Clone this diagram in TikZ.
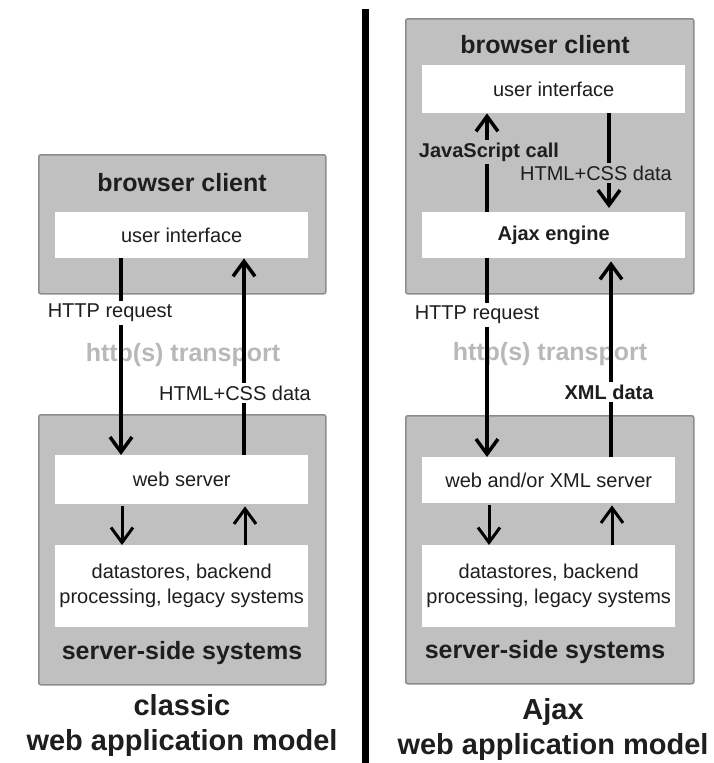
\documentclass[tikz,border=0pt]{standalone}
\usepackage{fontspec}
\setmainfont{Liberation Sans}
\usetikzlibrary{arrows.meta}

\definecolor{panel}{HTML}{C0C0C0}
\definecolor{panelline}{HTML}{8C8C8C}
\definecolor{ink}{HTML}{1E1E1E}
\definecolor{transportgray}{HTML}{B8B8B8}

\tikzset{
  outer/.style={draw=panelline, fill=panel, line width=1.5pt, anchor=north west,
                inner sep=0pt, rounded corners=2pt},
  inner/.style={fill=white, anchor=north west, inner sep=0pt},
  txt/.style={text=ink, font=\fontsize{20}{25}\selectfont, align=center, inner sep=0pt},
  boldtxt/.style={txt, font=\fontsize{20}{25}\selectfont\bfseries},
  title/.style={text=ink, font=\fontsize{25}{30}\selectfont\bfseries, inner sep=0pt},
  caption/.style={text=ink, font=\fontsize{29}{35}\selectfont\bfseries, align=center, inner sep=0pt},
  flow/.style={draw=black, line width=3.5pt, -{Straight Barb[length=15pt,width=22pt]}},
  inflow/.style={draw=black, line width=3pt, -{Straight Barb[length=15pt,width=22pt]}},
  wlbl/.style={fill=white, inner sep=3pt},
  glbl/.style={fill=panel, inner sep=3pt},
  transport/.style={text=transportgray, font=\fontsize{25}{30}\selectfont\bfseries, inner sep=0pt},
}

\begin{document}
\begin{tikzpicture}[x=1pt, y=-1pt]
  \useasboundingbox (0,0) rectangle (713,763);

  % divider between the two models
  \draw[line width=7pt, black] (365.5,9) -- (365.5,763);

  % ---------- classic model ----------
  \node[outer, minimum width=287pt, minimum height=139pt] (bc1) at (38,154) {};
  \node[outer, minimum width=287pt, minimum height=270pt] (ss1) at (38,414) {};
  \node[title] (bct1) at (182,183) {browser client};
  \node[inner, txt, minimum width=253pt, minimum height=46pt] (ui1) at (55,212) {user interface};
  \node[inner, txt, minimum width=253pt, minimum height=49pt] (ws1) at (55,455) {web server};
  \node[inner, txt, minimum width=253pt, minimum height=82pt] (ds1) at (55,545)
       {datastores, backend\\processing, legacy systems};
  \node[title] (sst1) at (182,653) {server-side systems};
  \node[caption] (cap1) at (182,725.5) {classic\\web application model};
  \node[transport] (tr1) at (183,355) {http(s) transport};

  \coordinate (a1) at (121,0);
  \coordinate (b1) at (244,0);
  \coordinate (c1) at (122,0);
  \coordinate (d1) at (245,0);
  \draw[flow] (ui1.south -| a1) -- (ws1.north -| a1);
  \draw[flow] (ws1.north -| b1) -- (ui1.south -| b1);
  \draw[inflow] ([yshift=-2pt]ws1.south -| c1) -- (ds1.north -| c1);
  \draw[inflow] (ds1.north -| d1) -- ([yshift=-2pt]ws1.south -| d1);

  \node[wlbl, txt, inner sep=3pt] (req1) at (110,313) {HTTP request};
  \node[wlbl, txt, inner sep=3pt] (resp1) at (235,393) {HTML+CSS data};

  % ---------- Ajax model ----------
  \node[outer, minimum width=288pt, minimum height=275pt] (bc2) at (405,18) {};
  \node[outer, minimum width=288pt, minimum height=268pt] (ss2) at (405,415) {};
  \node[title] (bct2) at (545,45) {browser client};
  \node[inner, txt, minimum width=263pt, minimum height=48pt] (ui2) at (422,65) {user interface};
  \node[inner, boldtxt, minimum width=263pt, minimum height=46pt] (ae2) at (422,212) {Ajax engine};
  \node[inner, txt, minimum width=253pt, minimum height=46pt] (ws2) at (422,457) {web and/or XML server};
  \node[inner, txt, minimum width=253pt, minimum height=82pt] (ds2) at (422,545)
       {datastores, backend\\processing, legacy systems};
  \node[title] (sst2) at (545,652) {server-side systems};
  \node[caption] (cap2) at (553,729.5) {Ajax\\web application model};
  \node[transport] (tr2) at (550,354) {http(s) transport};

  \coordinate (a2) at (487,0);
  \coordinate (b2) at (609,0);
  \coordinate (e2) at (611,0);
  \coordinate (c2) at (489,0);
  \coordinate (d2) at (612,0);
  \draw[flow] (ae2.north -| a2) -- (ui2.south -| a2);
  \draw[flow] (ui2.south -| b2) -- ([yshift=4pt]ae2.north -| b2);
  \draw[flow] (ae2.south -| a2) -- (ws2.north -| a2);
  \draw[flow] (ws2.north -| e2) -- ([yshift=-3pt]ae2.south -| e2);
  \draw[inflow] ([yshift=-2pt]ws2.south -| c2) -- (ds2.north -| c2);
  \draw[inflow] (ds2.north -| d2) -- ([yshift=-2pt]ws2.south -| d2);

  \node[glbl, boldtxt, inner sep=3pt] (js2) at (489,152) {JavaScript call};
  \node[glbl, txt, inner sep=3pt] (hc2) at (596,173) {HTML+CSS data};
  \node[wlbl, txt, inner sep=3pt] (req2) at (477,315) {HTTP request};
  \node[wlbl, boldtxt, inner sep=3pt] (xml2) at (609,392) {XML data};
\end{tikzpicture}
\end{document}
